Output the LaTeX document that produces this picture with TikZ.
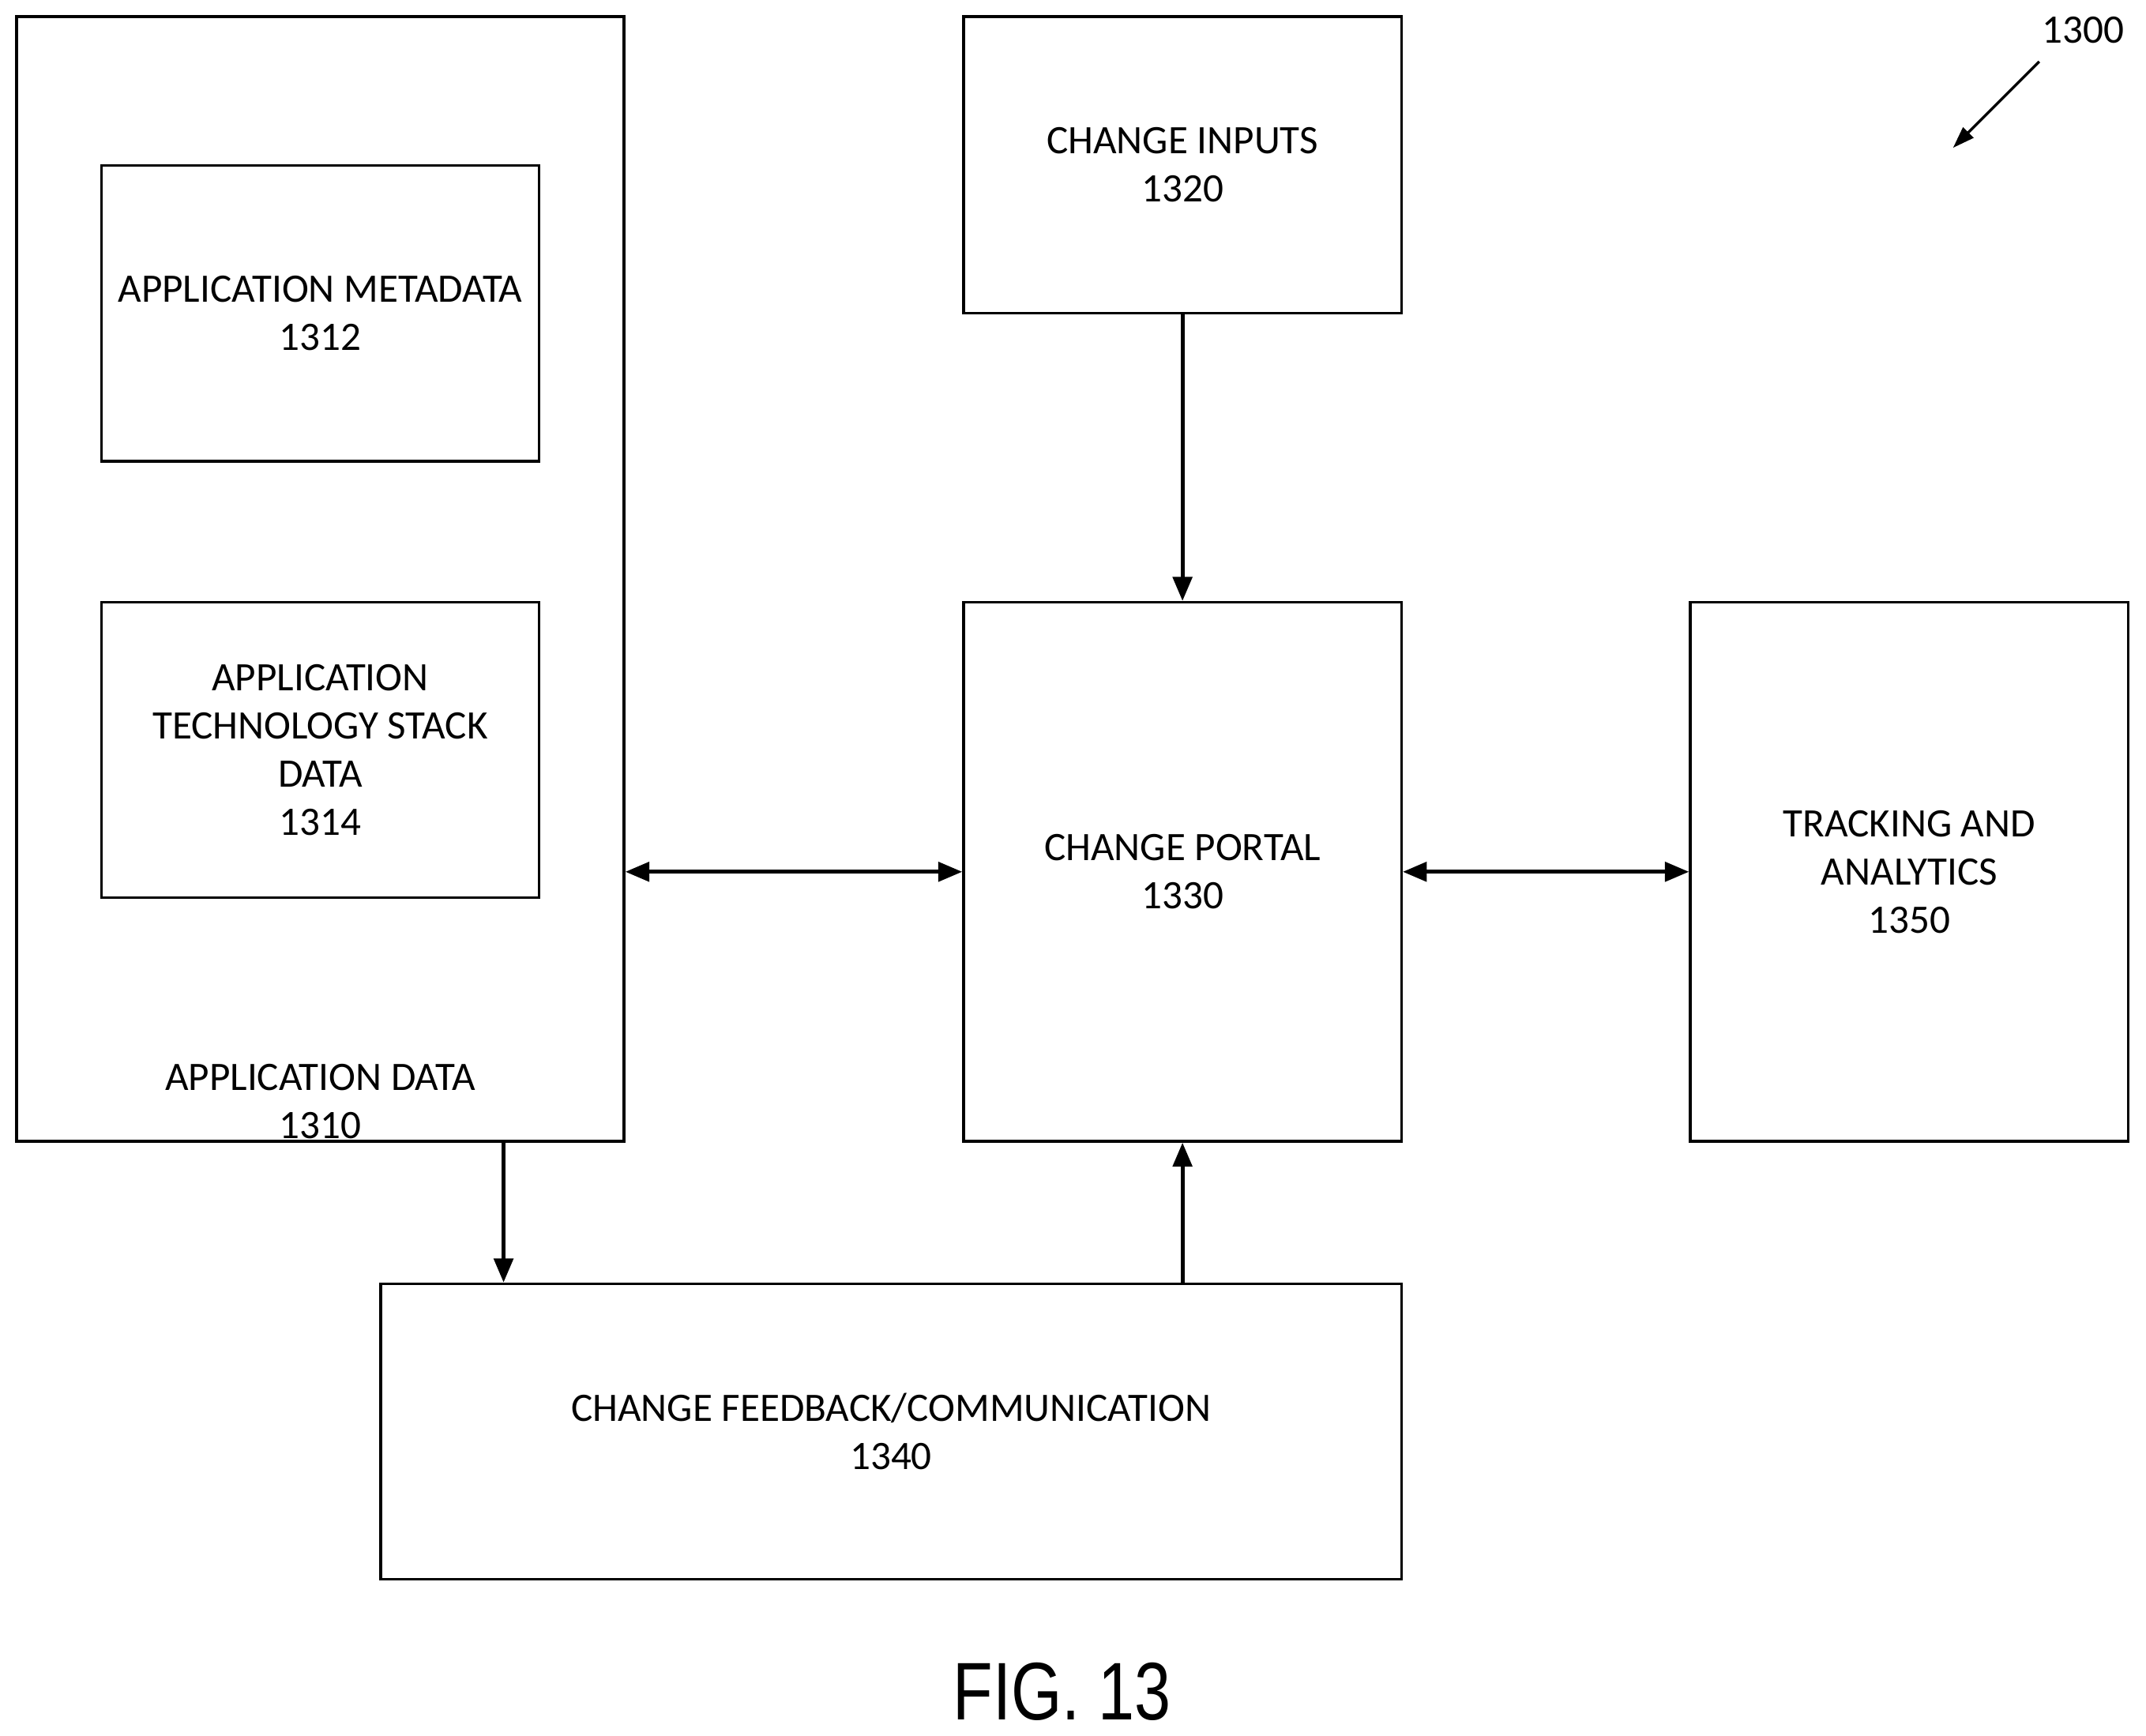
\documentclass[tikz,border=0pt]{standalone}
\usepackage{fontspec}
\setmainfont{Carlito}
\newfontfamily\figfont[FakeStretch=0.8]{Liberation Sans}
\usetikzlibrary{arrows.meta, positioning}

\tikzset{
  box/.style={draw, line width=1.1pt, align=center, inner sep=0pt, font=\fontsize{16.8}{20}\selectfont},
  link/.style={line width=1.6pt, -{Triangle[length=10pt, width=8pt]}},
  both/.style={line width=1.6pt, {Triangle[length=10pt, width=8pt]}-{Triangle[length=10pt, width=8pt]}}
}

\begin{document}
\begin{tikzpicture}[x=0.02cm, y=-0.02cm]
  \useasboundingbox (0,0) rectangle (1568,1268);
  \node[box, minimum width=8.88cm, minimum height=16.44cm](app) at (234,423){};
  \node[box, draw=none](appl) at (234,805){APPLICATION DATA\\1310};
  \node[box, minimum width=6.4cm, minimum height=4.32cm](meta) at (234,229){APPLICATION METADATA\\1312};
  \node[box, minimum width=6.4cm, minimum height=4.32cm](tech) at (234,548){APPLICATION\\TECHNOLOGY STACK\\DATA\\1314};
  \node[box, minimum width=6.4cm, minimum height=4.34cm](inputs) at (864,120.5){CHANGE INPUTS\\1320};
  \node[box, minimum width=6.4cm, minimum height=7.88cm](portal) at (864,637){CHANGE PORTAL\\1330};
  \node[box, minimum width=6.4cm, minimum height=7.88cm](track) at (1395,637){TRACKING AND\\ANALYTICS\\1350};
  \node[box, minimum width=14.92cm, minimum height=4.32cm](feed) at (651,1046){CHANGE FEEDBACK/COMMUNICATION\\1340};
  \node[font=\figfont\fontsize{34}{40}\selectfont](fig) at (776,1236){FIG. 13};
  \node[box, draw=none](ref) at (1522,22){1300};

  % connectors
  \draw[link] (inputs.south) -- (portal.north);
  \draw[both] (app.east |- portal.west) -- (portal.west);
  \draw[both] (portal.east) -- (track.west);
  \coordinate (appout) at ([xshift=-1.78cm]app.south east);
  \draw[link] (appout) -- (appout |- feed.north);
  \draw[link] (feed.north -| portal.south) -- (portal.south);
  \coordinate (refa) at (1490,45);
  \coordinate (refb) at (1427,108);
  \draw[line width=1.1pt, -{Triangle[length=9pt, width=6pt]}] (refa) -- (refb);
\end{tikzpicture}
\end{document}
